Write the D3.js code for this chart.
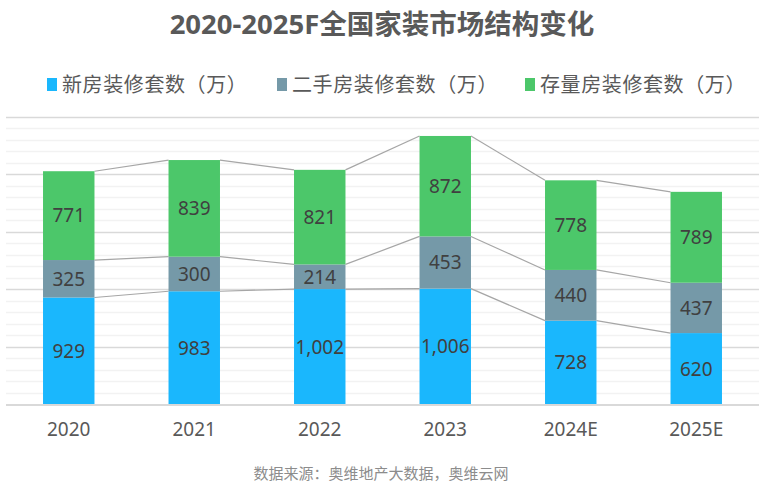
<!DOCTYPE html>
<html>
<head>
<meta charset="utf-8">
<script src="https://cdn.jsdelivr.net/npm/d3@7"></script>
<style>
  body { margin: 0; background: #fff; }
  svg text { font-family: "Noto Sans", "Noto Sans CJK SC", sans-serif; }
</style>
</head>
<body>
<svg id="chart"></svg>
<script>
// chart data
const years = ["2020", "2021", "2022", "2023", "2024E", "2025E"];
const seriesNames = ["新房装修套数（万）", "二手房装修套数（万）", "存量房装修套数（万）"];
const newHouse = [929, 983, 1002, 1006, 728, 620];
const secondHand = [325, 300, 214, 453, 440, 437];
const stock = [771, 839, 821, 872, 778, 789];
const colors = ["#1ab7fd", "#7599a8", "#4cc76a"];

const W = 759, H = 498;
const svg = d3.select("#chart").attr("width", W).attr("height", H);

//build rows for stack
const rows = years.map((y, i) => ({year: y, s0: newHouse[i], s1: secondHand[i], s2: stock[i]}));
const stacked = d3.stack().keys(["s0", "s1", "s2"])(rows);

const x = d3.scaleBand().domain(years).range([6, 759]).paddingInner(0.59).paddingOuter(0.295);
const y = d3.scaleLinear().domain([0, 2500]).range([404.5, 116.5]);

//gridlines: minor every 100, major every 500
const gridG = svg.append("g");
gridG.selectAll("line.minor").data(d3.range(100, 2500, 100).filter(v => v % 500 !== 0)).join("line")
    .attr("x1", 6).attr("x2", 759)
    .attr("y1", d => Math.round(y(d)) + 0.5).attr("y2", d => Math.round(y(d)) + 0.5)
    .attr("stroke", "#f2f2f2").attr("stroke-width", 1.5);
gridG.selectAll("line.major").data(d3.range(500, 2501, 500)).join("line")
    .attr("x1", 6).attr("x2", 759)
    .attr("y1", d => Math.round(y(d)) + 0.5).attr("y2", d => Math.round(y(d)) + 0.5)
    .attr("stroke", "#d9d9d9").attr("stroke-width", 1.5);

//connector lines between stack tops
const connG = svg.append("g");
stacked.forEach(layer => {
    for (let i = 0; i < years.length - 1; i++) {
        connG.append("line")
            .attr("x1", x(years[i]) + x.bandwidth())
            .attr("x2", x(years[i + 1]))
            .attr("y1", y(layer[i][1]))
            .attr("y2", y(layer[i + 1][1]))
            .attr("stroke", "#a6a6a6").attr("stroke-width", 1.2);
    }
});

//bars
const barG = svg.append("g");
stacked.forEach((layer, si) => {
    barG.append("g").selectAll("rect").data(layer).join("rect")
        .attr("x", d => x(d.data.year))
        .attr("width", x.bandwidth())
        .attr("y", d => y(d[1]))
        .attr("height", d => y(d[0]) - y(d[1]))
        .attr("fill", colors[si]);
    barG.append("g").selectAll("text").data(layer).join("text")
        .attr("x", d => x(d.data.year) + x.bandwidth() / 2)
        .attr("y", d => (y(d[0]) + y(d[1])) / 2)
        .attr("dy", "0.36em")
        .attr("text-anchor", "middle")
        .attr("font-size", 19)
        .attr("fill", "#404040")
        .text(d => d3.format(",")(d[1] - d[0]));
});

//baseline
svg.append("line").attr("x1", 6).attr("x2", 759)
    .attr("y1", y(0) + 0.5).attr("y2", y(0) + 0.5)
    .attr("stroke", "#d9d9d9").attr("stroke-width", 2);

//x axis labels
svg.append("g").selectAll("text").data(years).join("text")
    .attr("x", d => x(d) + x.bandwidth() / 2)
    .attr("y", 436)
    .attr("text-anchor", "middle")
    .attr("font-size", 19)
    .attr("fill", "#595959")
    .text(d => d);

//title
svg.append("text").attr("x", 382).attr("y", 34)
    .attr("text-anchor", "middle")
    .attr("font-size", 27.5).attr("font-weight", "bold")
    .attr("fill", "#595959")
    .text("2020-2025F全国家装市场结构变化");

//legend
const legendX = [47, 277, 525];
const legG = svg.append("g");
seriesNames.forEach((name, i) => {
    legG.append("rect").attr("x", legendX[i]).attr("y", 78).attr("width", 10).attr("height", 13).attr("fill", colors[i]);
    legG.append("text").attr("x", legendX[i] + 15).attr("y", 92)
        .attr("font-size", 20).attr("letter-spacing", 0.6)
        .attr("fill", "#595959").text(name);
});

//source
svg.append("text").attr("x", 381).attr("y", 479)
    .attr("text-anchor", "middle")
    .attr("font-size", 15).attr("fill", "#8c8c8c")
    .text("数据来源：奥维地产大数据，奥维云网");
</script>
</body>
</html>
